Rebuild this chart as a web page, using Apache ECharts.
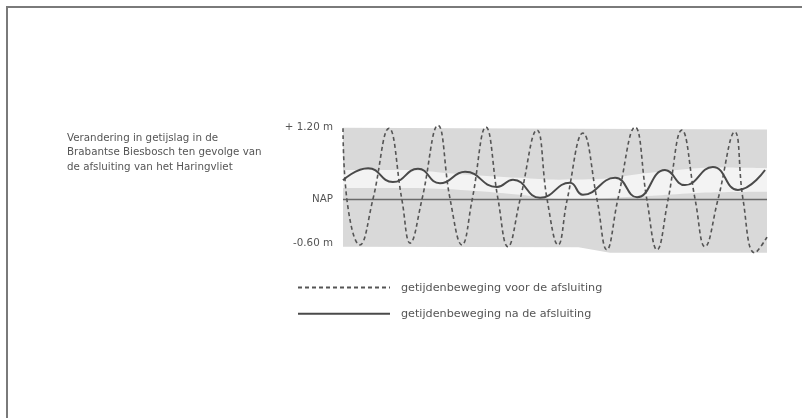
<!DOCTYPE html>
<html>
<head>
<meta charset="utf-8">
<script src="https://cdn.jsdelivr.net/npm/echarts@6/dist/echarts.min.js"></script>
<style>
  html, body { margin: 0; padding: 0; background: #fff; }
  #wrap { position: relative; width: 802px; height: 418px; overflow: hidden; }
  #frame { position: absolute; left: 6px; top: 6px; right: -10px; bottom: -10px;
           border-left: 2px solid #7a7a7a; border-top: 2px solid #7a7a7a; pointer-events: none; }
  #chart { position: absolute; left: 0; top: 0; width: 802px; height: 418px; }
</style>
</head>
<body>
<div id="wrap">
  <div id="chart"></div>
  <div id="frame"></div>
</div>
<script>
// ---- Data (time in hours, water level in m relative to NAP) ----
const titleText = 'Verandering in getijslag in de\nBrabantse Biesbosch ten gevolge van\nde afsluiting van het Haringvliet';
const seriesNames = ['getijdenbeweging voor de afsluiting', 'getijdenbeweging na de afsluiting'];
const yTickValues = [-0.6, 0, 1.2];
const yTickLabels = ['-0.60 m', 'NAP', '+ 1.20 m'];

// tide before closure (dashed): extremes and NAP crossings
const beforeHours = [0, 1.0, 4.3, 7.6, 11.7, 15.0, 17.1, 20.1, 24.2, 27.3, 30.3, 32.9, 36.4, 39.5, 42.0, 45.1, 49.4, 52.0, 54.8, 57.1, 61.1, 64.7, 67.2, 70.0, 74.4, 77.4, 80.0, 82.8, 86.3, 89.7, 92.2, 95.5, 99.8, 101.9, 104.9, 108];
const beforeLevel = [1.18, 0, -0.75, 0, 1.18, 0, -0.72, 0, 1.23, 0, -0.75, 0, 1.20, 0, -0.78, 0, 1.15, 0, -0.75, 0, 1.10, 0, -0.83, 0, 1.20, 0, -0.83, 0, 1.15, 0, -0.78, 0, 1.12, 0, -0.88, -0.62];

// tide after closure (solid)
const afterHours = [0, 6.4, 12.7, 19.1, 24.7, 31.1, 39.2, 43.3, 50.2, 57.8, 61.1, 69.3, 74.9, 82.0, 87.1, 94.2, 100.6, 107.5];
const afterLevel = [0.32, 0.52, 0.29, 0.51, 0.27, 0.46, 0.21, 0.33, 0.03, 0.28, 0.08, 0.36, 0.04, 0.49, 0.24, 0.54, 0.16, 0.49];

// NAP reference line
const napHours = [0, 108];
const napLevel = [0, 0];

// grey tidal range band (top and bottom edges) and lighter band inside it
const bandTopHours = [0, 108];
const bandTopLevel = [1.19, 1.16];
const bandBottomHours = [0, 60, 68, 108];
const bandBottomLevel = [-0.78, -0.79, -0.88, -0.88];
const lightHours = [0, 15, 30, 45, 55, 65, 75, 85, 95, 108];
const lightLow = [0.19, 0.19, 0.16, 0.08, 0.01, 0.02, 0.05, 0.09, 0.12, 0.13];
const lightHigh = [0.49, 0.49, 0.42, 0.36, 0.33, 0.34, 0.42, 0.49, 0.53, 0.52];

const pairs = (xs, ys) => xs.map((x, i) => [x, ys[i]]);

const chart = echarts.init(document.getElementById('chart'), null, { renderer: 'canvas' });
const font = '"DejaVu Sans", sans-serif';
const txt = '#555';
const grey = '#d9d9d9';

const fill = (name, data, color, smooth) => ({
  name, type: 'line', data, symbol: 'none', silent: true, smooth: smooth || false,
  lineStyle: { width: 0, opacity: 0 }, z: 1,
  areaStyle: { color, opacity: 1, origin: 'start' }
});

chart.setOption({
  animation: false,
  backgroundColor: '#fff',
  textStyle: { fontFamily: font },
  title: {
    text: titleText,
    left: 62, top: 126,
    textStyle: { fontSize: 10.3, fontWeight: 'normal', color: txt, lineHeight: 14.5, fontFamily: font }
  },
  legend: {
    data: seriesNames,
    orient: 'vertical',
    left: 292, top: 277,
    itemWidth: 92, itemHeight: 14, itemGap: 15,
    itemStyle: { color: 'rgba(0,0,0,0)', borderColor: 'rgba(0,0,0,0)', borderWidth: 0, opacity: 0 },
    textStyle: { fontSize: 11.2, color: txt, padding: [0, 0, 0, 6], fontFamily: font }
  },
  grid: { left: 343, right: 35, top: 109, bottom: 158 },
  xAxis: { type: 'value', min: 0, max: 108, show: false },
  yAxis: {
    type: 'value', min: -1.0, max: 1.5,
    axisLine: { show: false }, axisTick: { show: false }, splitLine: { show: false },
    axisLabel: {
      customValues: yTickValues,
      margin: 10,
      color: txt, fontSize: 10.3, fontFamily: font,
      formatter: function (v) {
        const i = yTickValues.findIndex(t => Math.abs(t - v) < 1e-6);
        if (i < 0) return '';
        return v < 0 ? '{low|' + yTickLabels[i] + '}' : yTickLabels[i];
      },
      rich: { low: { padding: [14, 0, 0, 0], color: txt, fontSize: 10.3, fontFamily: font } }
    }
  },
  series: [
    fill('bandTop', pairs(bandTopHours, bandTopLevel), grey),
    fill('lightHigh', pairs(lightHours, lightHigh), '#f3f3f3', 0.4),
    fill('lightLow', pairs(lightHours, lightLow), grey, 0.4),
    fill('bandBottom', pairs(bandBottomHours, bandBottomLevel), '#ffffff'),
    {
      name: 'NAP', type: 'line', data: pairs(napHours, napLevel), symbol: 'none', silent: true,
      lineStyle: { color: '#6a6a6a', width: 1.5 }, z: 3
    },
    {
      name: seriesNames[0], type: 'line', data: pairs(beforeHours, beforeLevel),
      symbol: 'none', smooth: 0.45,
      lineStyle: { color: '#555', width: 1.6, type: [4, 3] },
      itemStyle: { color: '#555' }, z: 4
    },
    {
      name: seriesNames[1], type: 'line', data: pairs(afterHours, afterLevel),
      symbol: 'none', smooth: 0.5,
      lineStyle: { color: '#4a4a4a', width: 2 },
      itemStyle: { color: '#4a4a4a' }, z: 5
    }
  ]
});
</script>
</body>
</html>
